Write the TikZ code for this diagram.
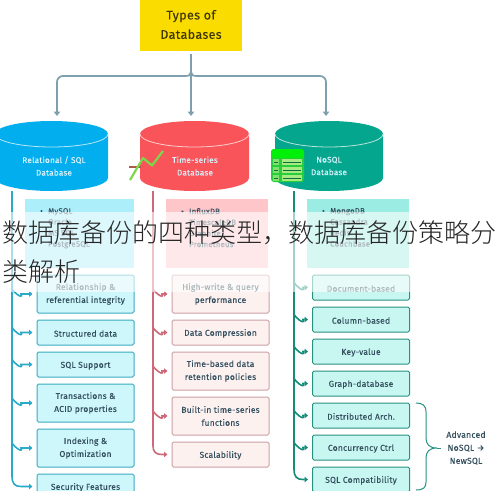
\documentclass[tikz,border=0pt]{standalone}
\usepackage{fontspec}
\setmainfont{Fira Sans}
\newfontfamily\bodyf[FakeBold=0.1,LetterSpace=2.5]{Fira Sans}
\newfontfamily\cjk{Noto Sans CJK SC Light}
\usetikzlibrary{arrows.meta,calc}
\definecolor{ttl}{HTML}{FADC00}
\definecolor{arrowgray}{HTML}{7F9FAE}
\definecolor{ink}{HTML}{34505F}
\definecolor{dbblue}{HTML}{02AEEE}
\definecolor{dbred}{HTML}{F8545A}
\definecolor{dbgreen}{HTML}{04A78E}
\definecolor{bbedge}{HTML}{3AAAC0}
\definecolor{bbfill}{HTML}{CEF7FC}
\definecolor{rbedge}{HTML}{CDA0A5}
\definecolor{rbfill}{HTML}{FDF1F0}
\definecolor{gbedge}{HTML}{289182}
\definecolor{gbfill}{HTML}{C8F7F1}
\definecolor{trb}{HTML}{28AAC8}
\definecolor{trr}{HTML}{CD6978}
\definecolor{trg}{HTML}{148C78}
\definecolor{pb}{HTML}{ACEEFA}
\definecolor{pr}{HTML}{FFC6CA}
\definecolor{pg}{HTML}{9BECE2}
\definecolor{chartred}{HTML}{AA5A46}
\definecolor{chartgreen}{HTML}{7DD74B}
\definecolor{tabbody}{HTML}{28CD3C}
\definecolor{tabhead}{HTML}{00F00A}
\definecolor{tabcella}{HTML}{82E16E}
\definecolor{tabcellb}{HTML}{A5EB82}
\definecolor{tabline}{HTML}{0F6E3C}
\tikzset{
  x=1pt,y=-1pt,
  itembox/.style={rounded corners=1.5pt,line width=1pt,inner sep=0pt,minimum width=97pt,align=center,
     font=\bodyf\fontsize{8.5}{13}\selectfont,text=ink,execute at begin node={\rule{0pt}{8.4pt}}},
  h1/.style={minimum height=25pt},
  h2/.style={minimum height=38pt},
  bb/.style={itembox,draw=bbedge,fill=bbfill},
  rb/.style={itembox,draw=rbedge,fill=rbfill},
  gb/.style={itembox,draw=gbedge,fill=gbfill},
  topconn/.style={draw=arrowgray,line width=1.7pt,-{Triangle[length=4.5pt,width=6.5pt]}},
  trunkb/.style={draw=trb,line width=1.6pt},
  trunkr/.style={draw=trr,line width=1.6pt},
  trunkg/.style={draw=trg,line width=1.6pt},
  tip/.style={-{Triangle[length=3.5pt,width=5.5pt]},shorten >=4pt},
  dblabel/.style={text=white!85!cyan,align=center,font=\bodyf\fontsize{8.2}{12.6}\selectfont,inner sep=0pt},
  plist/.style={anchor=north west,inner sep=0pt,align=left,text=ink,font=\bodyf\fontsize{7.8}{11}\selectfont},
}
\newcommand{\cyl}[3]{% cx rx colour
  \fill[#3] (#1-#2,134) arc[start angle=180,end angle=360,x radius=#2,y radius=13] -- (#1+#2,178)
     arc[start angle=0,end angle=180,x radius=#2,y radius=13] -- cycle;
  \draw[white!70!#3,line width=.8pt] (#1-#2,134) arc[start angle=180,end angle=0,x radius=#2,y radius=13];
}
\newcommand{\branch}[3]{% style, trunk x, target
  \draw[#1,tip] (#2|-#3.west) ++(0,-6) .. controls +(0,4) and +(3,6) .. ++(9,6) -- (#3.west);
}
\newcommand{\bul}{\makebox[8pt][l]{•}}
\newcommand{\nobul}{\hspace*{8pt}}
\begin{document}
\begin{tikzpicture}
\useasboundingbox (0,0) rectangle (498,490);
\clip (0,0) rectangle (498,490);
\fill[white] (0,0) rectangle (498,490);

% title
\node[fill=ttl,minimum width=102pt,minimum height=52pt,inner sep=0pt,align=center,text=black!75!ttl,
  font=\bodyf\fontsize{12.6}{19.4}\selectfont,execute at begin node={\rule{0pt}{12pt}}] (title) at (191,24.5) {Types of\\Databases};

% cylinders
\cyl{51.5}{56.5}{dbblue}
\cyl{194.5}{54.5}{dbred}
\cyl{329}{54}{dbgreen}
\node[dblabel] (db1) at (54,166) {Relational / SQL\\Database};
\node[dblabel] (db2) at (195,166) {Time-series\\Database};
\node[dblabel] (db3) at (329,166) {NoSQL\\Database};

% top connectors
\coordinate (s) at (191,54);
\coordinate (j) at (191,76);
\coordinate (a1) at (57,116);
\coordinate (a2) at (191,116);
\coordinate (a3) at (326,116);
\draw[topconn] (s) -- (a2);
\draw[topconn,rounded corners=6pt] (186,76) -- (a1|-j) -- (a1);
\draw[topconn,rounded corners=6pt] (196,76) -- (a3|-j) -- (a3);
\draw[arrowgray,line width=1.7pt] (186,76) .. controls (189,76) .. (191,72) .. controls (193,76) .. (196,76);

% panels
\fill[pb] (25,199) rectangle (134,268);
\fill[pr] (166,199) rectangle (268,268);
\fill[pg] (307,199) rectangle (409,268);
\node[plist] (p1) at (40,208) {\bul MySQL\\\nobul Oracle\\\nobul MS SQL\\\nobul PostgreSQL};
\node[plist] (p2) at (181,208) {\bul InfluxDB\\\nobul TimescaleDB\\\nobul Graphite\\\nobul Prometheus};
\node[plist] (p3) at (322,208) {\bul MongoDB\\\nobul Cassandra\\\nobul Redis\\\nobul Couchbase};

% blue list
\node[bb,h2] (b1) at (85.5,294) {Relationship \&\\referential integrity};
\node[bb,h1] (b2) at (85.5,332.5) {Structured data};
\node[bb,h1] (b3) at (85.5,364.5) {SQL Support};
\node[bb,h2] (b4) at (85.5,403) {Transactions \&\\ACID properties};
\node[bb,h2] (b5) at (85.5,448) {Indexing \&\\Optimization};
\node[bb,h1] (b6) at (85.5,486.5) {Security Features};
% red list
\node[rb,h2] (r1) at (220.5,294) {High-write \& query\\performance};
\node[rb,h1] (r2) at (220.5,332.5) {Data Compression};
\node[rb,h2] (r3) at (220.5,371) {Time-based data\\retention policies};
\node[rb,h2] (r4) at (220.5,416) {Built-in time-series\\functions};
\node[rb,h1] (r5) at (220.5,454.5) {Scalability};
% green list
\node[gb,h1] (g1) at (361,287.5) {Document-based};
\node[gb,h1] (g2) at (361,319.5) {Column-based};
\node[gb,h1] (g3) at (361,351.5) {Key-value};
\node[gb,h1] (g4) at (361,383.5) {Graph-database};
\node[gb,h1] (g5) at (361,415.5) {Distributed Arch.};
\node[gb,h1] (g6) at (361,447.5) {Concurrency Ctrl};
\node[gb,h1] (g7) at (361,479.5) {SQL Compatibility};

% trunks
\coordinate (tb) at (12,191);
\coordinate (tr) at (153,191);
\coordinate (tg) at (294,191);
\draw[trunkb,tip] (tb) -- (12,476) .. controls (12,484) and (15,486.5) .. (21,486.5) -- (b6.west);
\draw[trunkr,tip] (tr) -- (153,446) .. controls (153,452) and (156,454.5) .. (162,454.5) -- (r5.west);
\draw[trunkg,tip] (tg) -- (294,469) .. controls (294,477) and (297,479.5) .. (303,479.5) -- (g7.west);
\foreach \n in {b1,b2,b3,b4,b5} {\branch{trunkb}{tb}{\n}}
\foreach \n in {r1,r2,r3,r4} {\branch{trunkr}{tr}{\n}}
\foreach \n in {g1,g2,g3,g4,g5,g6} {\branch{trunkg}{tg}{\n}}

% brace and label
\node[inner sep=0pt,align=center,text=ink,font=\bodyf\fontsize{8.6}{13}\selectfont] (adv) at (466,448) {Advanced\\NoSQL →\\NewSQL};
\coordinate (b0) at (416,403);
\coordinate (bm) at (437,448);
\coordinate (be) at (416,490);
\draw[gbedge,line width=1pt] (b0) .. controls (422,403) and (426,405) .. (426,412) -- (426,438)
  .. controls (426,444) and (429,448) .. (bm) .. controls (429,448) and (426,452) .. (426,458) -- (426,482) .. controls (426,487) and (424,490) .. (be);
\draw[gbedge,line width=1pt] (bm) -- (441,448);

% icons
\draw[chartred,line width=1.2pt] (129,167) -- (141,167);
\draw[chartgreen,line width=2.2pt,line join=round] (130,180) -- (143,158) -- (152,165.5) -- (163,151);
\fill[tabbody,rounded corners=3pt] (271,149) rectangle (304,182);
\fill[tabhead,rounded corners=3pt] (271,149) rectangle (304,158);
\foreach \yy in {162,170,178} {
  \fill[tabcella] (272.5,\yy-3) rectangle (279,\yy+3);
  \fill[tabcellb] (282,\yy-3) rectangle (302,\yy+3);
  \draw[tabline,line width=.9pt] (274,\yy) -- (278,\yy);
  \draw[tabline,line width=.9pt] (283,\yy) -- (301,\yy);
}

% wash and overlaid caption
\fill[white,opacity=.6] (0,212) rectangle (498,292);
\node[anchor=north west,inner sep=0pt,align=left,text=black!85,font=\cjk\fontsize{26}{39}\selectfont] (cap) at (2,220) {数据库备份的四种类型，数据库备份策略分\\类解析};
\end{tikzpicture}
\end{document}
